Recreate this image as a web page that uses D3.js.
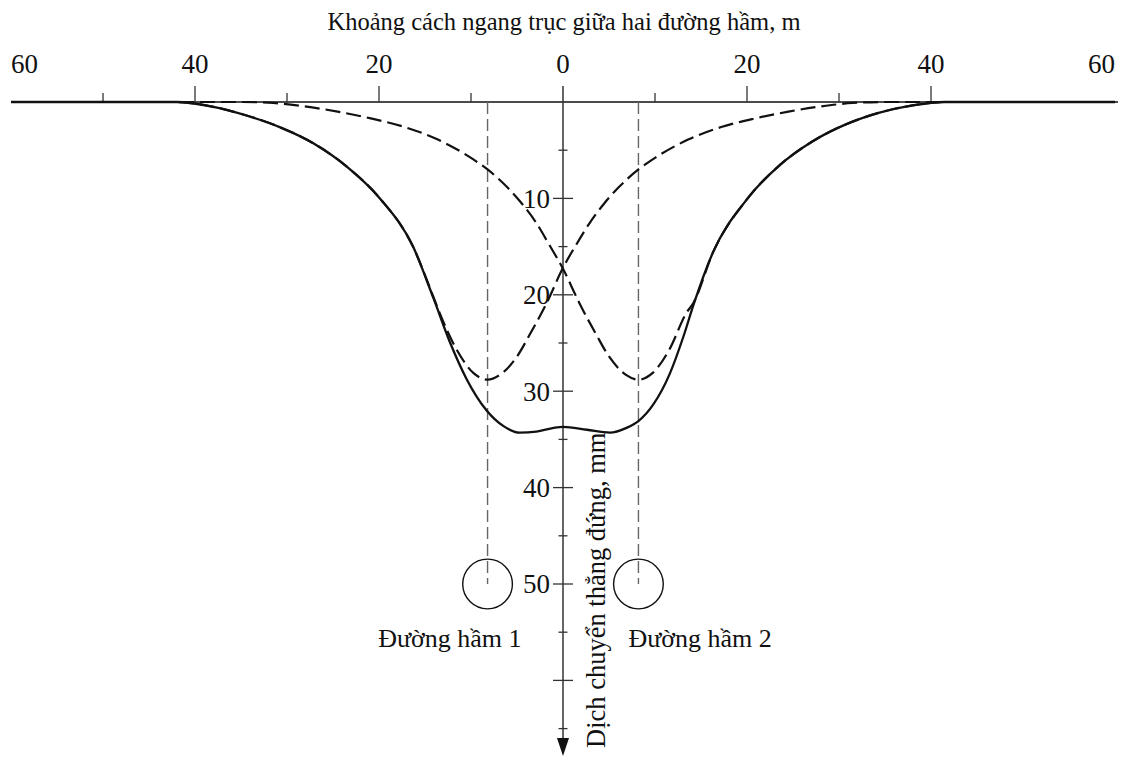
<!DOCTYPE html>
<html>
<head>
<meta charset="utf-8">
<script src="https://cdn.jsdelivr.net/npm/d3@7"></script>
<style>
  html, body { margin: 0; padding: 0; background: #fff; }
  svg { display: block; }
  text { font-family: "Liberation Serif", "Times New Roman", serif; fill: #111; }
</style>
</head>
<body>
<svg id="chart" width="1132" height="758"></svg>
<script>
// Horizontal distance from the axis between the tunnels (m) and vertical settlement (mm)

// Combined settlement trough of both tunnels
const totalX = [-60, -50, -42, -38, -34.4, -30.8, -27.1, -23.5, -19.9, -16.3, -14.1, -12.3, -10.5, -8.3, -6.5, -4.7, -2.9, -1.0, 0,
                2.6, 5.1, 6.9, 8.2, 9.8, 11.6, 13.1, 14.2, 16.3, 19.9, 23.5, 27.1, 30.8, 34.4, 38, 41.5, 50, 60];
const totalS = [0, 0, 0, 0.5, 1.4, 2.6, 4.3, 6.7, 10.0, 15.0, 20.3, 24.9, 28.7, 32.0, 33.6, 34.3, 34.2, 33.8, 33.7,
                34.0, 34.3, 33.8, 33.1, 31.4, 28.2, 24.3, 21.0, 15.6, 10.2, 6.6, 4.1, 2.3, 1.1, 0.35, 0, 0, 0];

// Trough of tunnel 1 alone
const tunnel1X = [-60, -50, -42, -38, -34.4, -30.8, -27.1, -23.5, -19.9, -16.3, -14.1, -13.4, -11.55, -9.75, -8.2, -6.85, -5.0, -3.6, -1.8, 0,
                  1.5, 3.0, 4.5, 6.0, 8.2, 10.0, 13.6, 17.2, 20.9, 24.5, 28.1, 31.5, 35, 45, 60];
const tunnel1S = [0, 0, 0, 0.5, 1.4, 2.6, 4.3, 6.7, 10.0, 15.0, 20.2, 21.9, 25.7, 28.1, 28.8, 28.3, 26.4, 24.1, 20.9, 17.2,
                  14.7, 12.4, 10.5, 8.9, 7.0, 5.8, 3.9, 2.6, 1.7, 1.0, 0.45, 0.1, 0, 0, 0];

// Trough of tunnel 2 alone
const tunnel2X = [-60, -45, -35, -31.5, -28.1, -24.5, -20.9, -17.2, -13.6, -10.0, -8.2, -6.0, -4.5, -3.0, -1.5, 0,
                  1.8, 3.6, 5.0, 6.85, 8.2, 9.75, 11.55, 13.4, 14.2, 16.3, 19.9, 23.5, 27.1, 30.8, 34.4, 38, 41.5, 50, 60];
const tunnel2S = [0, 0, 0, 0.1, 0.45, 1.0, 1.7, 2.6, 3.9, 5.8, 7.0, 8.9, 10.5, 12.4, 14.8, 17.3,
                  20.9, 24.1, 26.4, 28.3, 28.8, 28.1, 25.7, 21.9, 20.8, 15.6, 10.2, 6.6, 4.1, 2.3, 1.1, 0.35, 0, 0, 0];

// Tunnels
const tunnelNames = ["Đường hầm 1", "Đường hầm 2"];
const tunnelAxisX = [-8.2, 8.2];
const tunnelDepth = 50;
const tunnelDiameter = 5.4;

// Axis ticks and labels
const xLabelValues = [-60, -40, -20, 0, 20, 40, 60];
const xMajorTicks = [-40, -20, 20, 40];
const xMinorTicks = [-50, -30, -10, 10, 30];
const yLabelValues = [10, 20, 30, 40, 50];
const yMajorTicks = [10, 20, 30, 40, 50, 60];
const yMinorTicks = [5, 15, 25, 35, 45, 55, 65];

const xTitle = "Khoảng cách ngang trục giữa hai đường hầm, m";
const yTitle = "Dịch chuyển thẳng đứng, mm";

const svg = d3.select("#chart");

const x = d3.scaleLinear().domain([-60, 60]).range([11, 1115]);
const y = d3.scaleLinear().domain([0, 50]).range([102, 584]);
const x0 = x(0), y0 = y(0);

const ink = "#111";
const axisInk = "#333";

// Horizontal axis line
svg.append("line")
  .attr("x1", x(-60)).attr("x2", x(60) + 3)
  .attr("y1", y0).attr("y2", y0)
  .attr("stroke", ink).attr("stroke-width", 1.5);

// Horizontal ticks (pointing up)
svg.append("g").selectAll("line").data(xMajorTicks).join("line")
  .attr("x1", d => x(d)).attr("x2", d => x(d))
  .attr("y1", y0).attr("y2", y0 - 16)
  .attr("stroke", axisInk).attr("stroke-width", 1.3);
svg.append("g").selectAll("line").data(xMinorTicks).join("line")
  .attr("x1", d => x(d)).attr("x2", d => x(d))
  .attr("y1", y0).attr("y2", y0 - 9)
  .attr("stroke", axisInk).attr("stroke-width", 1.3);

// Horizontal tick labels (end labels kept inside the axis span)
svg.append("g").selectAll("text").data(xLabelValues).join("text")
  .attr("x", d => x(d))
  .attr("y", 73)
  .attr("text-anchor", d => d === -60 ? "start" : d === 60 ? "end" : "middle")
  .attr("font-size", 27)
  .text(d => Math.abs(d));

// Horizontal axis title
svg.append("text")
  .attr("x", x0 + 1).attr("y", 30)
  .attr("text-anchor", "middle")
  .attr("font-size", 24.5)
  .text(xTitle);

// Vertical axis line with arrow head
svg.append("line")
  .attr("x1", x0).attr("x2", x0)
  .attr("y1", y0 - 16).attr("y2", 742)
  .attr("stroke", axisInk).attr("stroke-width", 1.5);
svg.append("path")
  .attr("d", `M${x0 - 6},738 L${x0 + 6},738 L${x0},756 Z`)
  .attr("fill", ink);

// Vertical ticks (across the axis)
svg.append("g").selectAll("line").data(yMajorTicks).join("line")
  .attr("x1", x0 - 10).attr("x2", x0 + 10)
  .attr("y1", d => y(d)).attr("y2", d => y(d))
  .attr("stroke", axisInk).attr("stroke-width", 1.3);
svg.append("g").selectAll("line").data(yMinorTicks).join("line")
  .attr("x1", x0 - 4.5).attr("x2", x0 + 4.5)
  .attr("y1", d => y(d)).attr("y2", d => y(d))
  .attr("stroke", axisInk).attr("stroke-width", 1.3);

// Vertical tick labels
svg.append("g").selectAll("text").data(yLabelValues).join("text")
  .attr("x", x0 - 13)
  .attr("y", d => y(d))
  .attr("dy", "0.35em")
  .attr("text-anchor", "end")
  .attr("font-size", 27)
  .text(d => d);

// Vertical axis title, reading upward along the axis
svg.append("text")
  .attr("transform", `translate(${x0 + 42},748) rotate(-90)`)
  .attr("text-anchor", "start")
  .attr("font-size", 26.5)
  .text(yTitle);

// Tunnel centre lines and cross-sections
const tunnels = tunnelNames.map((name, i) => ({ name, cx: tunnelAxisX[i] }));
const radiusPx = x(tunnelDiameter / 2) - x(0);

svg.append("g").selectAll("line").data(tunnels).join("line")
  .attr("x1", d => x(d.cx)).attr("x2", d => x(d.cx))
  .attr("y1", y0).attr("y2", y(tunnelDepth))
  .attr("stroke", "#666").attr("stroke-width", 1.4)
  .attr("stroke-dasharray", "12,5");

svg.append("g").selectAll("circle").data(tunnels).join("circle")
  .attr("cx", d => x(d.cx)).attr("cy", y(tunnelDepth))
  .attr("r", radiusPx)
  .attr("fill", "none").attr("stroke", ink).attr("stroke-width", 1.4);

svg.append("g").selectAll("text").data(tunnels).join("text")
  .attr("x", (d, i) => i === 0 ? x(d.cx) + 34 : x(d.cx) - 10)
  .attr("y", 647)
  .attr("text-anchor", (d, i) => i === 0 ? "end" : "start")
  .attr("font-size", 26)
  .text(d => d.name);

// Settlement curves
const line = d3.line()
  .x(d => x(d[0]))
  .y(d => y(d[1]))
  .curve(d3.curveMonotoneX);

const zip = (xs, ss) => xs.map((v, i) => [v, ss[i]]);

[zip(tunnel1X, tunnel1S), zip(tunnel2X, tunnel2S)].forEach(pts => {
  svg.append("path")
    .datum(pts)
    .attr("d", line)
    .attr("fill", "none").attr("stroke", ink).attr("stroke-width", 2.2)
    .attr("stroke-dasharray", "15,6");
});

svg.append("path")
  .datum(zip(totalX, totalS))
  .attr("d", line)
  .attr("fill", "none").attr("stroke", ink).attr("stroke-width", 2.3);
</script>
</body>
</html>
